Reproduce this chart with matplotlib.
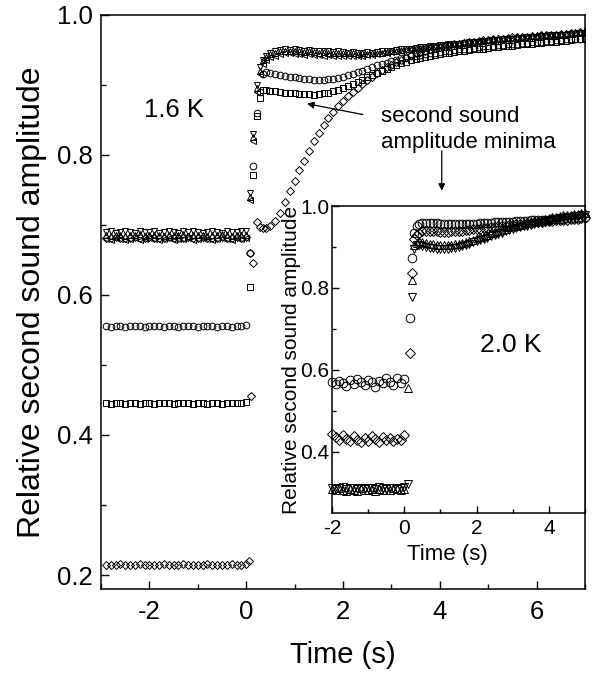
import numpy as np
import matplotlib
matplotlib.use('Agg')
import matplotlib.pyplot as plt
from matplotlib.ticker import MultipleLocator, FormatStrFormatter

plt.rcParams['font.family'] = ['Liberation Sans', 'DejaVu Sans']
plt.rcParams['axes.unicode_minus'] = False

# ---- 1.6 K (main panel) ----
# pre-trigger rows, t = -2.9 ... 0.0 (step 0.1)
t_pre = np.arange(-2.9, 0.05, 0.1)
v_pre = [0.690, 0.691, 0.689, 0.690, 0.692, 0.690, 0.689, 0.691, 0.690, 0.690,
         0.692, 0.689, 0.690, 0.691, 0.690, 0.689, 0.691, 0.690, 0.692, 0.690,
         0.689, 0.690, 0.691, 0.690, 0.689, 0.691, 0.690, 0.690, 0.692, 0.691]
up_pre = [0.685, 0.684, 0.686, 0.685, 0.684, 0.686, 0.685, 0.687, 0.684, 0.685,
          0.686, 0.685, 0.684, 0.686, 0.685, 0.685, 0.687, 0.684, 0.685, 0.686,
          0.685, 0.684, 0.686, 0.685, 0.687, 0.685, 0.684, 0.686, 0.685, 0.686]
lt_pre = [0.680, 0.679, 0.681, 0.680, 0.679, 0.680, 0.681, 0.679, 0.680, 0.681,
          0.680, 0.679, 0.680, 0.681, 0.679, 0.680, 0.680, 0.681, 0.679, 0.680,
          0.681, 0.680, 0.679, 0.680, 0.681, 0.680, 0.679, 0.681, 0.680, 0.681]
da_pre = [0.682, 0.681, 0.683, 0.682, 0.681, 0.682, 0.683, 0.681, 0.682, 0.683,
          0.682, 0.681, 0.682, 0.683, 0.681, 0.682, 0.682, 0.683, 0.681, 0.682,
          0.683, 0.682, 0.681, 0.682, 0.683, 0.682, 0.681, 0.683, 0.682, 0.683]
o_pre = [0.555, 0.554, 0.556, 0.555, 0.554, 0.556, 0.555, 0.556, 0.554, 0.555,
         0.556, 0.555, 0.554, 0.556, 0.555, 0.554, 0.556, 0.555, 0.556, 0.554,
         0.555, 0.556, 0.555, 0.554, 0.556, 0.555, 0.554, 0.555, 0.556, 0.557]
s_pre = [0.445, 0.444, 0.445, 0.446, 0.444, 0.445, 0.445, 0.444, 0.446, 0.445,
         0.444, 0.445, 0.446, 0.445, 0.444, 0.445, 0.445, 0.446, 0.444, 0.445,
         0.445, 0.444, 0.446, 0.445, 0.444, 0.445, 0.446, 0.445, 0.445, 0.447]
db_pre = [0.215, 0.214, 0.215, 0.216, 0.214, 0.215, 0.215, 0.216, 0.214, 0.215,
          0.215, 0.214, 0.216, 0.215, 0.214, 0.215, 0.216, 0.215, 0.214, 0.215,
          0.215, 0.216, 0.214, 0.215, 0.215, 0.214, 0.216, 0.215, 0.215, 0.216]

# jump right after the pulse
t_jump = [0.08, 0.15, 0.22, 0.28, 0.34]
v_jump = [0.745, 0.830, 0.900, 0.925, 0.935]
up_jump = [0.740, 0.825, 0.895, 0.920, 0.935]
lt_jump = [0.735, 0.820, 0.890, 0.915, 0.930]
da_jump = [0.660, 0.645, 0.704, 0.697, 0.696]
o_jump = [0.660, 0.784, 0.860, 0.890, 0.915]
s_jump = [0.611, 0.771, 0.855, 0.881, 0.893]
t_db_jump = [0.05, 0.10]
db_jump = [0.220, 0.455]

# recovery, t = 0.4 ... 7.0 (step 0.1)
v_rec = [0.942, 0.946, 0.948, 0.950, 0.951, 0.950, 0.951, 0.950, 0.949, 0.950,
         0.949, 0.948, 0.949, 0.948, 0.947, 0.948, 0.947, 0.946, 0.947, 0.946,
         0.946, 0.947, 0.946, 0.947, 0.948, 0.948, 0.949, 0.950, 0.951, 0.951,
         0.952, 0.953, 0.954, 0.954, 0.955, 0.956, 0.957, 0.957, 0.958, 0.959,
         0.959, 0.960, 0.961, 0.961, 0.962, 0.963, 0.963, 0.964, 0.964, 0.965,
         0.966, 0.966, 0.967, 0.967, 0.968, 0.968, 0.969, 0.970, 0.970, 0.971,
         0.971, 0.972, 0.972, 0.973, 0.973, 0.974, 0.974]
up_rec = [0.940, 0.944, 0.946, 0.948, 0.948, 0.949, 0.948, 0.948, 0.947, 0.948,
          0.947, 0.946, 0.947, 0.946, 0.946, 0.945, 0.946, 0.945, 0.945, 0.944,
          0.945, 0.944, 0.945, 0.946, 0.946, 0.947, 0.948, 0.949, 0.950, 0.951,
          0.952, 0.953, 0.953, 0.954, 0.955, 0.956, 0.957, 0.958, 0.958, 0.959,
          0.960, 0.961, 0.961, 0.962, 0.963, 0.963, 0.964, 0.965, 0.965, 0.966,
          0.967, 0.967, 0.968, 0.968, 0.969, 0.970, 0.970, 0.971, 0.971, 0.972,
          0.973, 0.973, 0.974, 0.974, 0.975, 0.975, 0.976]
lt_rec = [0.935, 0.940, 0.942, 0.944, 0.945, 0.945, 0.944, 0.944, 0.943, 0.944,
          0.943, 0.943, 0.942, 0.943, 0.942, 0.942, 0.941, 0.942, 0.941, 0.942,
          0.942, 0.943, 0.943, 0.944, 0.945, 0.946, 0.947, 0.948, 0.949, 0.950,
          0.951, 0.952, 0.953, 0.954, 0.955, 0.955, 0.956, 0.957, 0.958, 0.958,
          0.959, 0.960, 0.961, 0.961, 0.962, 0.963, 0.963, 0.964, 0.965, 0.965,
          0.966, 0.966, 0.967, 0.968, 0.968, 0.969, 0.969, 0.970, 0.970, 0.971,
          0.971, 0.972, 0.972, 0.973, 0.973, 0.974, 0.974]
da_rec = [0.696, 0.698, 0.706, 0.717, 0.733, 0.748, 0.763, 0.778, 0.792, 0.806,
          0.820, 0.832, 0.843, 0.853, 0.862, 0.870, 0.877, 0.884, 0.890, 0.896,
          0.902, 0.907, 0.912, 0.917, 0.921, 0.925, 0.929, 0.933, 0.936, 0.940,
          0.943, 0.945, 0.947, 0.949, 0.951, 0.953, 0.954, 0.956, 0.957, 0.958,
          0.959, 0.960, 0.961, 0.962, 0.963, 0.964, 0.964, 0.965, 0.966, 0.966,
          0.967, 0.968, 0.968, 0.969, 0.969, 0.970, 0.970, 0.971, 0.971, 0.972,
          0.972, 0.973, 0.973, 0.974, 0.974, 0.975, 0.975]
o_rec = [0.918, 0.917, 0.915, 0.914, 0.913, 0.912, 0.911, 0.910, 0.909, 0.908,
         0.907, 0.907, 0.907, 0.908, 0.909, 0.910, 0.912, 0.914, 0.916, 0.918,
         0.920, 0.923, 0.925, 0.928, 0.930, 0.932, 0.934, 0.936, 0.938, 0.939,
         0.941, 0.942, 0.943, 0.944, 0.945, 0.946, 0.947, 0.948, 0.949, 0.950,
         0.951, 0.952, 0.952, 0.953, 0.954, 0.955, 0.955, 0.956, 0.957, 0.957,
         0.958, 0.959, 0.959, 0.960, 0.960, 0.961, 0.962, 0.962, 0.963, 0.963,
         0.964, 0.964, 0.965, 0.965, 0.966, 0.966, 0.967]
s_rec = [0.893, 0.892, 0.891, 0.890, 0.889, 0.888, 0.888, 0.887, 0.887, 0.887,
         0.886, 0.887, 0.888, 0.889, 0.891, 0.893, 0.895, 0.898, 0.901, 0.904,
         0.907, 0.911, 0.914, 0.917, 0.920, 0.923, 0.926, 0.929, 0.931, 0.933,
         0.935, 0.937, 0.939, 0.940, 0.942, 0.943, 0.944, 0.945, 0.946, 0.947,
         0.948, 0.949, 0.950, 0.951, 0.951, 0.952, 0.953, 0.954, 0.954, 0.955,
         0.956, 0.956, 0.957, 0.958, 0.958, 0.959, 0.960, 0.960, 0.961, 0.962,
         0.962, 0.963, 0.963, 0.964, 0.965, 0.965, 0.966]

# ---- 2.0 K (inset) ----
ti_pre = np.arange(-2.0, 0.05, 0.1)
io_pre = [0.570, 0.565, 0.572, 0.568, 0.560, 0.575, 0.566, 0.578, 0.571, 0.563,
          0.576, 0.569, 0.558, 0.573, 0.567, 0.579, 0.571, 0.562, 0.580, 0.568, 0.577]
id_pre = [0.442, 0.435, 0.428, 0.440, 0.431, 0.425, 0.437, 0.429, 0.423, 0.434,
          0.427, 0.438, 0.430, 0.424, 0.436, 0.428, 0.433, 0.426, 0.431, 0.429, 0.440]
iu_pre = [0.308, 0.305, 0.310, 0.306, 0.304, 0.309, 0.307, 0.303, 0.310, 0.306,
          0.305, 0.308, 0.304, 0.309, 0.306, 0.307, 0.305, 0.310, 0.308, 0.306, 0.309]
iv_pre = [0.312, 0.309, 0.311, 0.313, 0.308, 0.310, 0.312, 0.309, 0.311, 0.308,
          0.312, 0.310, 0.309, 0.313, 0.310, 0.308, 0.311, 0.312, 0.309, 0.311, 0.313]

ti_jump_o = [0.15, 0.22, 0.28, 0.34]
io_jump = [0.727, 0.873, 0.934, 0.950]
ti_jump_d = [0.15, 0.20, 0.28, 0.34]
id_jump = [0.640, 0.837, 0.920, 0.930]
ti_jump_t = [0.10, 0.20, 0.28, 0.34]
iu_jump = [0.555, 0.820, 0.905, 0.910]
iv_jump = [0.320, 0.778, 0.895, 0.905]

# recovery, t = 0.4 ... 5.0 (step 0.1)
io_rec = [0.955, 0.958, 0.958, 0.959, 0.958, 0.958, 0.957, 0.957, 0.956, 0.957,
          0.956, 0.956, 0.955, 0.956, 0.956, 0.957, 0.957, 0.958, 0.958, 0.959,
          0.959, 0.960, 0.960, 0.961, 0.961, 0.962, 0.962, 0.963, 0.963, 0.964,
          0.964, 0.965, 0.965, 0.966, 0.966, 0.967, 0.967, 0.968, 0.968, 0.969,
          0.969, 0.970, 0.970, 0.971, 0.971, 0.972, 0.972]
id_rec = [0.935, 0.938, 0.939, 0.939, 0.938, 0.938, 0.937, 0.937, 0.937, 0.938,
          0.938, 0.939, 0.940, 0.941, 0.942, 0.943, 0.944, 0.945, 0.946, 0.947,
          0.948, 0.949, 0.950, 0.951, 0.952, 0.953, 0.954, 0.955, 0.956, 0.957,
          0.958, 0.959, 0.960, 0.961, 0.962, 0.963, 0.964, 0.964, 0.965, 0.966,
          0.967, 0.967, 0.968, 0.969, 0.969, 0.970, 0.971]
iu_rec = [0.915, 0.912, 0.910, 0.908, 0.906, 0.905, 0.904, 0.904, 0.904, 0.905,
          0.906, 0.908, 0.910, 0.912, 0.915, 0.918, 0.921, 0.924, 0.927, 0.930,
          0.933, 0.936, 0.939, 0.942, 0.945, 0.948, 0.950, 0.952, 0.954, 0.956,
          0.958, 0.960, 0.962, 0.964, 0.966, 0.968, 0.970, 0.972, 0.974, 0.975,
          0.977, 0.978, 0.979, 0.980, 0.981, 0.982, 0.983]
iv_rec = [0.905, 0.902, 0.900, 0.898, 0.897, 0.896, 0.895, 0.895, 0.896, 0.897,
          0.898, 0.900, 0.902, 0.905, 0.908, 0.911, 0.914, 0.917, 0.920, 0.923,
          0.926, 0.929, 0.932, 0.935, 0.938, 0.941, 0.944, 0.946, 0.948, 0.950,
          0.952, 0.954, 0.956, 0.958, 0.960, 0.962, 0.964, 0.966, 0.968, 0.970,
          0.971, 0.972, 0.974, 0.975, 0.976, 0.977, 0.978]


def rec_times(vals):
    return list(0.4 + 0.1 * np.arange(len(vals)))


def style_axes(ax, size, major_len, minor_len):
    for sp in ax.spines.values():
        sp.set_linewidth(1.1)
    ax.tick_params(which='both', direction='in', top=False, right=False,
                   labelsize=size, width=1.0)
    ax.tick_params(which='major', length=major_len)
    ax.tick_params(which='minor', length=minor_len)


fig = plt.figure(figsize=(5.98, 6.75), dpi=100)
ax = fig.add_axes([0.1689, 0.1274, 0.8094, 0.8504])

mk = dict(ls='none', mfc='none', mec='black', mew=0.7)
ms = 4.8
# pre rows
ax.plot(t_pre, v_pre, marker='v', ms=ms, **mk)
ax.plot(t_pre, up_pre, marker='^', ms=ms, **mk)
ax.plot(t_pre, lt_pre, marker='<', ms=ms, **mk)
ax.plot(t_pre, da_pre, marker='D', ms=3.8, **mk)
ax.plot(t_pre, o_pre, marker='o', ms=ms, **mk)
ax.plot(t_pre, s_pre, marker='s', ms=4.2, **mk)
ax.plot(t_pre, db_pre, marker='D', ms=3.8, **mk)
# after pulse
ax.plot(t_jump + rec_times(v_rec), v_jump + v_rec, marker='v', ms=ms, **mk)
ax.plot(t_jump + rec_times(up_rec), up_jump + up_rec, marker='^', ms=ms, **mk)
ax.plot(t_jump + rec_times(lt_rec), lt_jump + lt_rec, marker='<', ms=ms, **mk)
ax.plot(t_jump + rec_times(da_rec), da_jump + da_rec, marker='D', ms=3.8, **mk)
ax.plot(t_jump + rec_times(o_rec), o_jump + o_rec, marker='o', ms=ms, **mk)
ax.plot(t_jump + rec_times(s_rec), s_jump + s_rec, marker='s', ms=4.2, **mk)
ax.plot(t_db_jump, db_jump, marker='D', ms=3.8, **mk)

ax.set_xlim(-3, 7)
ax.set_ylim(0.18, 1.0)
ax.xaxis.set_major_locator(MultipleLocator(2))
ax.xaxis.set_minor_locator(MultipleLocator(1))
ax.yaxis.set_major_locator(MultipleLocator(0.2))
ax.yaxis.set_minor_locator(MultipleLocator(0.1))
ax.yaxis.set_major_formatter(FormatStrFormatter('%.1f'))
style_axes(ax, 18.5, 6, 3.5)
ax.tick_params(axis='x', pad=8)
ax.tick_params(axis='y', pad=6)
ax.set_xlabel('Time (s)', fontsize=21, labelpad=12)
ax.set_ylabel('Relative second sound amplitude', fontsize=23, labelpad=7)

ax.text(-1.5, 0.864, '1.6 K', fontsize=18.5, ha='center', va='center')
ax.text(2.78, 0.836, 'second sound\namplitude minima', fontsize=16,
        ha='left', va='center', linespacing=1.3)
ax.annotate('', xy=(1.2, 0.874), xytext=(2.47, 0.857),
            arrowprops=dict(arrowstyle='-|>', color='black', lw=0.9,
                            mutation_scale=10))
ax.annotate('', xy=(4.04, 0.745), xytext=(4.04, 0.81),
            arrowprops=dict(arrowstyle='-|>', color='black', lw=0.9,
                            mutation_scale=10))

# inset
ins = fig.add_axes([0.5552, 0.24, 0.4231, 0.4548])
ins.set_facecolor('white')
mi = dict(ls='none', mfc='none', mec='black', mew=0.7, clip_on=False)
ins.plot(ti_pre, io_pre, marker='o', ms=6.2, **mi)
ins.plot(ti_pre, id_pre, marker='D', ms=5.0, **mi)
ins.plot(ti_pre, iu_pre, marker='^', ms=6.2, **mi)
ins.plot(ti_pre, iv_pre, marker='v', ms=6.2, **mi)
ins.plot(ti_jump_o + rec_times(io_rec), io_jump + io_rec, marker='o', ms=6.2, **mi)
ins.plot(ti_jump_d + rec_times(id_rec), id_jump + id_rec, marker='D', ms=5.0, **mi)
ins.plot(ti_jump_t + rec_times(iu_rec), iu_jump + iu_rec, marker='^', ms=6.2, **mi)
ins.plot(ti_jump_t + rec_times(iv_rec), iv_jump + iv_rec, marker='v', ms=6.2, **mi)

ins.set_xlim(-2, 5)
ins.set_ylim(0.25, 1.0)
ins.xaxis.set_major_locator(MultipleLocator(2))
ins.xaxis.set_minor_locator(MultipleLocator(1))
ins.yaxis.set_major_locator(MultipleLocator(0.2))
ins.yaxis.set_minor_locator(MultipleLocator(0.1))
ins.yaxis.set_major_formatter(FormatStrFormatter('%.1f'))
style_axes(ins, 15, 5, 3)
ins.tick_params(axis='x', pad=4)
ins.tick_params(axis='y', pad=2)
ins.set_xlabel('Time (s)', fontsize=16)
ins.xaxis.set_label_coords(0.455, -0.1)
ins.set_ylabel('Relative second sound amplitude', fontsize=15, labelpad=-1)
ins.text(2.94, 0.661, '2.0 K', fontsize=19, ha='center', va='center')

fig.savefig('out.png', dpi=100)
